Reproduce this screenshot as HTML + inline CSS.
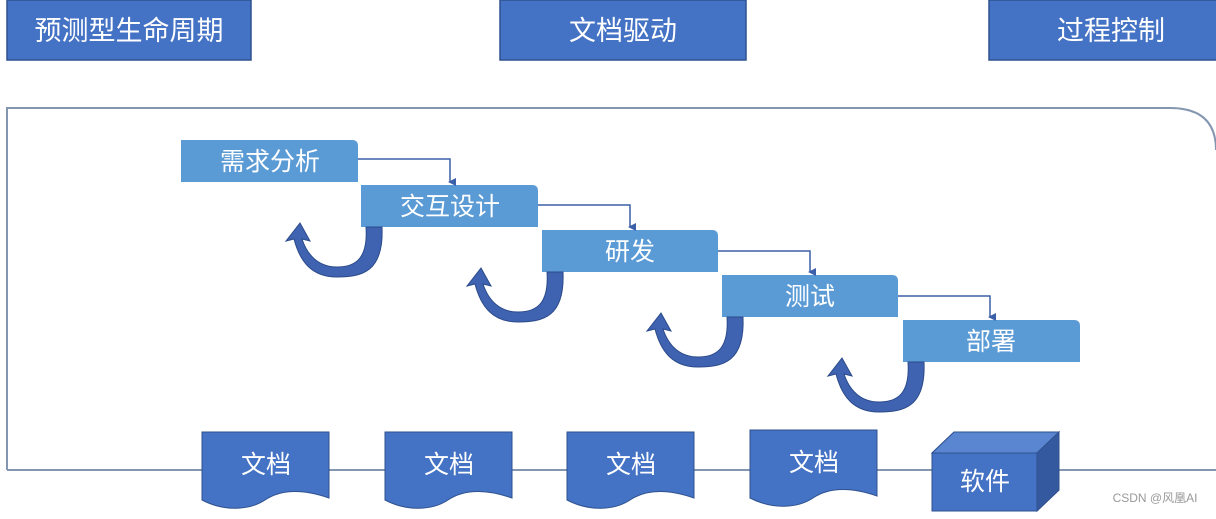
<!DOCTYPE html>
<html><head><meta charset="utf-8"><style>
body{margin:0;background:#fff;width:1216px;height:514px;overflow:hidden;font-family:"Liberation Sans","Noto Sans CJK SC",sans-serif}
</style></head><body>
<svg width="1216" height="514" xmlns="http://www.w3.org/2000/svg" font-family="Liberation Sans, Noto Sans CJK SC, sans-serif">
<defs>
<marker id="ah" markerWidth="8" markerHeight="8" refX="4" refY="6" orient="auto-start-reverse" markerUnits="userSpaceOnUse"><path d="M0,0 L8,0 L4,8 z" fill="#3b5fa8"/></marker>
<g id="curv">
<path d="M0,0 C2,45 -20,50 -45,50 C-70,50 -82,35 -88,12 L-96,14 L-82,-4 L-72,14 L-80,12 C-74,30 -62,40 -45,40 C-25,40 -14,30 -16,0 Z" fill="#3f63b0" stroke="#2b4a8a" stroke-width="1"/>
</g>
</defs>
<g fill="#4472c4" stroke="#2f528f" stroke-width="1.5">
<rect x="7" y="0" width="244" height="60"/>
<rect x="500" y="0" width="246" height="60"/>
<rect x="989" y="0" width="228" height="60"/>
</g>
<g fill="#fff" font-size="27" text-anchor="middle">
<text x="129" y="40">预测型生命周期</text>
<text x="623" y="40">文档驱动</text>
<text x="1111" y="40">过程控制</text>
</g>
<path d="M7,470 L7,108 L1170,108 Q1216,108 1216,150" fill="none" stroke="#8496b0" stroke-width="2"/>
<line x1="7" y1="470" x2="1216" y2="470" stroke="#8496b0" stroke-width="2"/>
<g fill="#5b9bd5">
<path d="M181,140 H352 Q358,140 358,146 V182 H181 Z"/>
<path d="M361,185 H532 Q538,185 538,191 V227 H361 Z"/>
<path d="M542,230 H712 Q718,230 718,236 V272 H542 Z"/>
<path d="M722,275 H892 Q898,275 898,281 V317 H722 Z"/>
<path d="M903,320 H1074 Q1080,320 1080,326 V362 H903 Z"/>
</g>
<g fill="#fff" font-size="25" text-anchor="middle">
<text x="270" y="170">需求分析</text>
<text x="450" y="215">交互设计</text>
<text x="630" y="260">研发</text>
<text x="810" y="305">测试</text>
<text x="991" y="350">部署</text>
</g>
<g fill="none" stroke="#3b5fa8" stroke-width="1.5" marker-end="url(#ah)">
<path d="M358,159 H450 V182"/>
<path d="M538,205 H630 V227"/>
<path d="M718,251 H810 V272"/>
<path d="M898,296 H990 V317"/>
</g>
<use href="#curv" transform="translate(382,227)"/>
<use href="#curv" transform="translate(563,272)"/>
<use href="#curv" transform="translate(743,317)"/>
<use href="#curv" transform="translate(924,362)"/>
<g fill="#4472c4" stroke="#2f528f" stroke-width="1">
<path d="M202,432 H329 V498 C300,488 280,490 265,500 C250,510 225,512 202,500 Z"/>
<path d="M385,432 H512 V498 C483,488 463,490 448,500 C433,510 408,512 385,500 Z"/>
<path d="M567,432 H694 V498 C665,488 645,490 630,500 C615,510 590,512 567,500 Z"/>
<path d="M750,430 H877 V496 C848,486 828,488 813,498 C798,508 773,510 750,498 Z"/>
<path d="M932,453 L954,432 H1059 V490 L1037,511 H932 Z"/>
</g>
<path d="M932,453 L954,432 H1059 L1037,453 Z" fill="#5a85d0" stroke="#2f528f"/>
<path d="M1037,453 L1059,432 V490 L1037,511 Z" fill="#35599e" stroke="#2f528f"/>
<g fill="#fff" font-size="25" text-anchor="middle">
<text x="266" y="473">文档</text>
<text x="449" y="473">文档</text>
<text x="631" y="473">文档</text>
<text x="814" y="471">文档</text>
<text x="985" y="490">软件</text>
</g>
<text x="1155" y="502" font-size="12" fill="#999" text-anchor="middle">CSDN @风凰AI</text>
</svg>
</body></html>
